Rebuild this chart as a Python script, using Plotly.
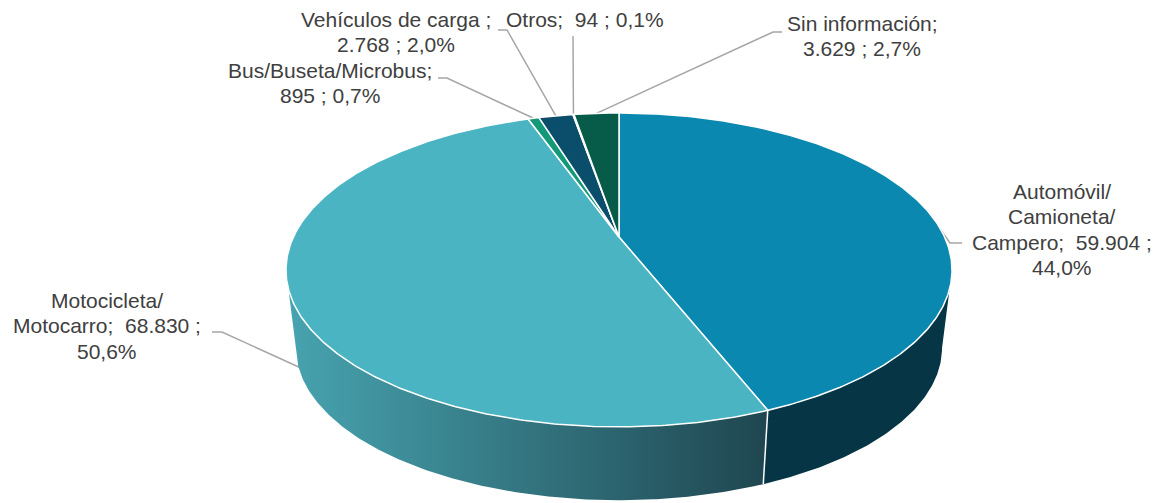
import numpy as np
import plotly.graph_objects as go

# ---------------- data ----------------
categories = ["Automóvil/Camioneta/Campero", "Motocicleta/Motocarro", "Bus/Buseta/Microbus",
              "Vehículos de carga", "Otros", "Sin información"]
values = [59904, 68830, 895, 2768, 94, 3629]
label_templates = [
    ["Automóvil/", "Camioneta/", "Campero;  {v} ;", "{p}"],
    ["Motocicleta/", "Motocarro;  {v} ;", "{p}"],
    ["Bus/Buseta/Microbus;", "{v} ; {p}"],
    ["Vehículos de carga ;", "{v} ; {p}"],
    ["Otros;  {v} ; {p}"],
    ["Sin información;", "{v} ; {p}"],
]

# ---------------- styles / layout ----------------
top_colors = ["#0A88AF", "#4AB4C2", "#14987A", "#0B4E6B", "#A8DCE5", "#065C48"]
side_colors = ["#063546", None, "#0D6652", "#07344A", "#6AA8B3", "#043F31"]
moto_side_scale = [[0, "#47A4B0"], [1, "#1F4650"]]

W, H = 1156, 503
CX, CY = 619.0, 237.0          # projected pie centre (pixels)
A, B, K = 325.6, 150.0, 0.21   # perspective ellipse parameters
M, DROP = 0.97, 79.0           # bottom-face scale and depth

# label centres (x, first line y) and leader elbow/end points
label_pos = [(1062, 191), (107, 300), (330, 70), (396, 19), (585, 19), (862, 23)]
leader_pts = [
    [(950, 243), (962, 243)],
    [(222, 332), (212, 332)],
    [(447, 78), (438, 78)],
    [(507, 30), (498, 30)],
    [(573, 36), (573, 36)],
    [(773, 32), (782, 32)],
]
line_gap = 25.5
font = dict(family="Liberation Sans, Arial, sans-serif", size=21, color="#404040")


def top_pt(th):
    w = 1 + K * np.cos(th)
    return CX + A * np.sin(th) / w, CY - B * np.cos(th) / w


def bot_pt(th):
    w = 1 + K * np.cos(th)
    return CX + M * A * np.sin(th) / w, CY - M * B * np.cos(th) / w + DROP


total = sum(values)
fracs = [v / total for v in values]
starts = np.concatenate([[0], np.cumsum(fracs)[:-1]]) * 2 * np.pi
ends = np.cumsum(fracs) * 2 * np.pi

# visible range of the cylinder side (between the silhouette tangent points)
vis_lo = np.arccos(-K)
vis_hi = 2 * np.pi - vis_lo

fig = go.Figure()

# leader lines (under the pie)
for i in range(len(values)):
    mid = (starts[i] + ends[i]) / 2
    if i == 1:
        tx, ty = top_pt(mid)
        bx, by = bot_pt(mid)
        ax, ay = tx + 0.95 * (bx - tx), ty + 0.95 * (by - ty)
    else:
        ax, ay = top_pt(mid)
    xs = [ax] + [p[0] for p in leader_pts[i]]
    ys = [ay] + [p[1] for p in leader_pts[i]]
    fig.add_trace(go.Scatter(x=xs, y=ys, mode="lines", line=dict(color="#A6A6A6", width=1.5),
                             hoverinfo="skip", showlegend=False))

# sides (only the visible front part)
for i in range(len(values)):
    a0, a1 = max(starts[i], vis_lo), min(ends[i], vis_hi)
    if a1 <= a0:
        continue
    n = max(4, int(np.degrees(a1 - a0) * 2))
    th = np.linspace(a0, a1, n)
    tx, ty = top_pt(th)
    bx, by = bot_pt(th[::-1])
    xs = np.concatenate([tx, bx, tx[:1]])
    ys = np.concatenate([ty, by, ty[:1]])
    kw = dict(x=xs, y=ys, mode="lines", fill="toself", line=dict(width=0, color="rgba(0,0,0,0)"),
              hoverinfo="skip", showlegend=False)
    if side_colors[i] is None:
        kw["fillgradient"] = dict(type="horizontal", colorscale=moto_side_scale)
    else:
        kw["fillcolor"] = side_colors[i]
    fig.add_trace(go.Scatter(**kw))

# white seam on the side between first two slices
seam = ends[0]
sx0, sy0 = top_pt(seam)
sx1, sy1 = bot_pt(seam)
fig.add_trace(go.Scatter(x=[sx0, sx1], y=[sy0, sy1], mode="lines", line=dict(color="white", width=1.5),
                         hoverinfo="skip", showlegend=False))

# top faces
for i in range(len(values)):
    n = max(4, int(np.degrees(ends[i] - starts[i]) * 2))
    th = np.linspace(starts[i], ends[i], n)
    tx, ty = top_pt(th)
    xs = np.concatenate([[CX], tx, [CX]])
    ys = np.concatenate([[CY], ty, [CY]])
    fig.add_trace(go.Scatter(x=xs, y=ys, mode="lines", fill="toself", fillcolor=top_colors[i],
                             line=dict(color="white", width=1.5), hoverinfo="skip",
                             showlegend=False))

# labels
for i, v in enumerate(values):
    vs = f"{v:,}".replace(",", ".")
    ps = f"{fracs[i] * 100:.1f}".replace(".", ",") + "%"
    x0, y0 = label_pos[i]
    for j, tpl in enumerate(label_templates[i]):
        fig.add_annotation(x=x0, y=y0 + j * line_gap, xref="x", yref="y",
                           text=tpl.format(v=vs, p=ps), showarrow=False,
                           xanchor="center", yanchor="middle", font=font)

fig.update_layout(
    width=W, height=H, margin=dict(l=0, r=0, t=0, b=0),
    paper_bgcolor="white", plot_bgcolor="white",
    xaxis=dict(range=[0, W], visible=False, fixedrange=True),
    yaxis=dict(range=[H, 0], visible=False, fixedrange=True),
)

fig.write_html("out.html", config={"displayModeBar": False, "staticPlot": True},
               post_script="document.body.style.margin='0';document.body.style.overflow='hidden';")
